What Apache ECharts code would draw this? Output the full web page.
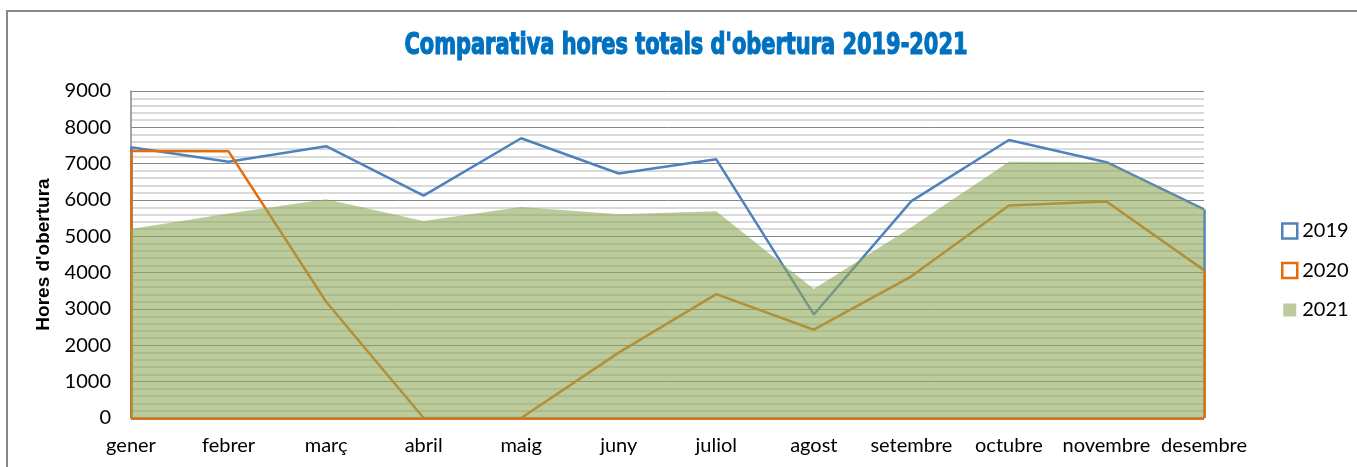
<!DOCTYPE html>
<html>
<head>
<meta charset="utf-8">
<title>Comparativa hores totals d'obertura 2019-2021</title>
<script src="https://cdn.jsdelivr.net/npm/echarts@6/dist/echarts.min.js"></script>
<style>
    html, body { margin: 0; padding: 0; background: #fff; }
    #main { width: 1357px; height: 467px; }
</style>
</head>
<body>
<div id="main"></div>
<script>
// dades
var mesos = ['gener', 'febrer', 'març', 'abril', 'maig', 'juny', 'juliol', 'agost', 'setembre', 'octubre', 'novembre', 'desembre'];
var hores2019 = [7450, 7050, 7480, 6120, 7700, 6730, 7120, 2850, 5970, 7650, 7040, 5740];
var hores2020 = [7350, 7340, 3200, 0, 0, 1800, 3410, 2430, 3900, 5850, 5960, 4070];
var hores2021 = [5200, 5630, 6020, 5420, 5810, 5610, 5690, 3550, 5250, 7050, 7040, 5740];
var anys = ['2019', '2020', '2021'];
var eixY = [0, 1000, 2000, 3000, 4000, 5000, 6000, 7000, 8000, 9000];

var blau = '#4F81BD', taronja = '#E46C0A', verd = '#8FA85A';
var lletra = 'Lato, "Open Sans", sans-serif';

// vores de l'area (com Excel): costats verticals i base
function vores(dades) {
    var last = dades.length - 1;
    return [
        [{coord: [0, 0]}, {coord: [0, dades[0]]}],
        [{coord: [last, dades[last]]}, {coord: [last, 0]}],
        [{coord: [0, 0]}, {coord: [last, 0]}]
    ];
}

function serieLinia(nom, dades, color) {
    return {
        name: nom,
        type: 'line',
        data: dades,
        symbol: 'none',
        itemStyle: {color: color},
        lineStyle: {color: color, width: 2.5},
        markLine: {
            silent: true,
            symbol: 'none',
            label: {show: false},
            lineStyle: {color: color, width: 2.5, type: 'solid'},
            data: vores(dades)
        }
    };
}

var myChart = echarts.init(document.getElementById('main'));
var option = {
    animation: false,
    backgroundColor: '#fff',
    graphic: [{
        type: 'rect',
        shape: {x: 7, y: 11, width: 1400, height: 500},
        style: {fill: 'none', stroke: '#878787', lineWidth: 2},
        silent: true
    }, {
        // titol (lletra estreta)
        type: 'text',
        x: 686,
        y: 46,
        scaleX: 0.775,
        style: {
            text: "Comparativa hores totals d'obertura 2019-2021",
            fill: '#0070C0',
            stroke: '#0070C0',
            lineWidth: 1.2,
            font: 'bold 30px "DejaVu Sans Condensed", sans-serif',
            align: 'center',
            verticalAlign: 'middle'
        },
        silent: true
    }],
    legend: {
        orient: 'vertical',
        left: 1281,
        top: 221,
        padding: 0,
        itemWidth: 15,
        itemHeight: 15,
        itemGap: 19.5,
        icon: 'rect',
        textStyle: {fontFamily: lletra, fontSize: 20, color: '#000'},
        data: [
            {name: anys[0], itemStyle: {color: '#fff', borderColor: blau, borderWidth: 2.5}},
            {name: anys[1], itemStyle: {color: '#fff', borderColor: taronja, borderWidth: 2.5}},
            {name: anys[2], itemStyle: {color: '#BCCB9B', borderColor: '#fff', borderWidth: 2}}
        ]
    },
    grid: {left: 131, right: 153, top: 91, bottom: 49, containLabel: false},
    xAxis: {
        type: 'category',
        boundaryGap: false,
        data: mesos,
        axisLine: {lineStyle: {color: '#868686', width: 1.5}},
        axisTick: {show: false},
        axisLabel: {fontFamily: lletra, fontSize: 20, color: '#000', margin: 18, interval: 0}
    },
    yAxis: {
        type: 'value',
        min: eixY[0],
        max: eixY[eixY.length - 1],
        interval: 1000,
        name: "Hores d'obertura",
        nameLocation: 'middle',
        nameGap: 69,
        nameTextStyle: {fontFamily: '"Liberation Sans", Arial, sans-serif', fontSize: 19, fontWeight: 'bold', color: '#000'},
        axisLine: {show: true, lineStyle: {color: '#868686', width: 1.5}},
        axisTick: {show: false},
        axisLabel: {
            fontFamily: lletra, fontSize: 20, color: '#000', margin: 20,
            formatter: function (v) { return String(v); }
        },
        splitLine: {lineStyle: {color: '#868686', width: 1}},
        minorTick: {show: false, splitNumber: 5},
        minorSplitLine: {show: true, lineStyle: {color: '#cdcdcd', width: 1.6}}
    },
    series: [
        serieLinia(anys[0], hores2019, blau),
        serieLinia(anys[1], hores2020, taronja),
        {
            // area 2021 en una capa per sobre de les linies
            name: anys[2],
            type: 'line',
            zlevel: 1,
            data: hores2021,
            symbol: 'none',
            itemStyle: {color: '#BCCB9B'},
            lineStyle: {width: 0},
            areaStyle: {color: verd, opacity: 0.6}
        }
    ]
};
myChart.setOption(option);
</script>
</body>
</html>
